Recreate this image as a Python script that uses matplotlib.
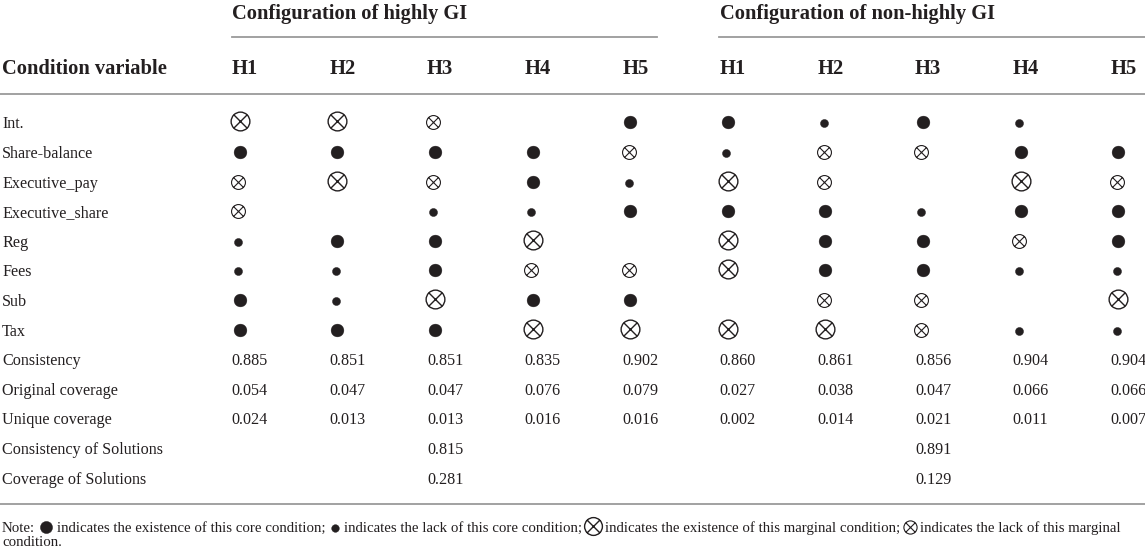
import numpy as np
import matplotlib
matplotlib.use("Agg")
import matplotlib.pyplot as plt
from matplotlib.path import Path

# table content
conditions = ['Int.', 'Share-balance', 'Executive_pay', 'Executive_share',
              'Reg', 'Fees', 'Sub', 'Tax']
# C core present, c core absent, M marginal present, m marginal absent
highly_gi = [['M', 'M', 'm', '', 'C'],
             ['C', 'C', 'C', 'C', 'm'],
             ['m', 'M', 'm', 'C', 'c'],
             ['m', '', 'c', 'c', 'C'],
             ['c', 'C', 'C', 'M', ''],
             ['c', 'c', 'C', 'm', 'm'],
             ['C', 'c', 'M', 'C', 'C'],
             ['C', 'C', 'C', 'M', 'M']]
non_highly_gi = [['C', 'c', 'C', 'c', ''],
                 ['c', 'm', 'm', 'C', 'C'],
                 ['M', 'm', '', 'M', 'm'],
                 ['C', 'C', 'c', 'C', 'C'],
                 ['M', 'C', 'C', 'm', 'C'],
                 ['M', 'C', 'C', 'c', 'c'],
                 ['', 'm', 'm', '', 'M'],
                 ['M', 'M', 'm', 'c', 'c']]
stat_labels = ['Consistency', 'Original coverage', 'Unique coverage']
consistency = ['0.885', '0.851', '0.851', '0.835', '0.902',
               '0.860', '0.861', '0.856', '0.904', '0.904']
orig_coverage = ['0.054', '0.047', '0.047', '0.076', '0.079',
                 '0.027', '0.038', '0.047', '0.066', '0.066']
uniq_coverage = ['0.024', '0.013', '0.013', '0.016', '0.016',
                 '0.002', '0.014', '0.021', '0.011', '0.007']
sol_labels = ['Consistency of Solutions', 'Coverage of Solutions']
sol_highly = ['0.815', '0.281']
sol_non = ['0.891', '0.129']
col_names = ['H1', 'H2', 'H3', 'H4', 'H5'] * 2
groups = ['Configuration of highly GI', 'Configuration of non-highly GI']

txt = '#231f20'
rule = '#9a9a9a'
fam = ['Liberation Serif', 'DejaVu Serif']
body = dict(family=fam, fontsize=11.6, color=txt)
head = dict(family=fam, fontsize=14.8, color=txt, fontweight='bold')

# circled cross marker
circ = Path.unit_circle()
d = 0.72
cross = Path([(-d, -d), (d, d), (-d, d), (d, -d)],
             [Path.MOVETO, Path.LINETO, Path.MOVETO, Path.LINETO])
otimes = Path.make_compound_path(circ, cross)

fig = plt.figure(figsize=(11.45, 5.47), dpi=100)
ax = fig.add_axes([0, 0, 1, 1])
ax.set_xlim(0, 1145)
ax.set_ylim(547, 0)
ax.axis('off')

col_x = 231.7 + 97.6 * np.arange(10)
row_y = 122.3 + 29.6 * np.arange(13)

offset = {'C': 8, 'c': 6.5, 'M': 8, 'm': 6.5}


def symbol(x, y, code, k=1.0):
    if code == 'C':
        ax.plot(x + 8, y, 'o', ms=9.2 * k, color=txt, mec=txt, mew=0.3)
    elif code == 'c':
        ax.plot(x + 6.5, y + 1, 'o', ms=5.8 * k, color=txt, mec=txt, mew=0.3)
    elif code == 'M':
        ax.plot(x + 8, y - 1, marker=otimes, ms=13.5 * k, mfc='none', mec=txt, mew=1.0)
    elif code == 'm':
        ax.plot(x + 6.5, y, marker=otimes, ms=10 * k, mfc='none', mec=txt, mew=0.8)


# header
ax.text(col_x[0], 11, groups[0], va='center_baseline', ha='left', **head)
ax.text(col_x[5], 11, groups[1], va='center_baseline', ha='left', **head)
ax.plot([col_x[0], 657], [37, 37], color=rule, lw=1.3)
ax.plot([col_x[5] - 1, 1145], [37, 37], color=rule, lw=1.3)
ax.text(2, 67, 'Condition variable', va='center_baseline', ha='left', **head)
for x, name in zip(col_x, col_names):
    ax.text(x, 67, name, va='center_baseline', ha='left', **head)
ax.plot([0, 1145], [94, 94], color=rule, lw=1.3)

# condition rows
for i, cond in enumerate(conditions):
    y = row_y[i]
    ax.text(2, y, cond, va='center_baseline', ha='left', **body)
    codes = highly_gi[i] + non_highly_gi[i]
    for x, code in zip(col_x, codes):
        symbol(x, y, code)

# statistics rows
for k, (lab, vals) in enumerate(zip(stat_labels, [consistency, orig_coverage, uniq_coverage])):
    y = row_y[8 + k]
    ax.text(2, y, lab, va='center_baseline', ha='left', **body)
    for x, v in zip(col_x, vals):
        ax.text(x, y, v, va='center_baseline', ha='left', **body)

for k, lab in enumerate(sol_labels):
    y = row_y[11 + k]
    ax.text(2, y, lab, va='center_baseline', ha='left', **body)
    ax.text(col_x[2], y, sol_highly[k], va='center_baseline', ha='left', **body)
    ax.text(col_x[7], y, sol_non[k], va='center_baseline', ha='left', **body)

ax.plot([0, 1145], [504, 504], color=rule, lw=1.3)

# note line with inline symbols
renderer = fig.canvas.get_renderer()
pieces = ['Note:', 'C', 'indicates the existence of this core condition;', 'c',
          'indicates the lack of this core condition;', 'M',
          'indicates the existence of this marginal condition;', 'm',
          'indicates the lack of this marginal']
note = dict(body, fontsize=10.75)
widths = {'C': 12, 'c': 8, 'M': 13, 'm': 10}
xpos = 2
ny = 526.5
for p in pieces:
    if p in widths:
        w = widths[p]
        center = xpos + 2 + w / 2
        symbol(center - offset[p], ny, p, 0.95)
        xpos = center + w / 2 + 5
    else:
        t = ax.text(xpos, ny, p, va='center_baseline', ha='left', **note)
        xpos += t.get_window_extent(renderer).width + 3
ax.text(2, 540.5, 'condition.', va='center_baseline', ha='left', **note)

fig.savefig('out.png', dpi=100)
